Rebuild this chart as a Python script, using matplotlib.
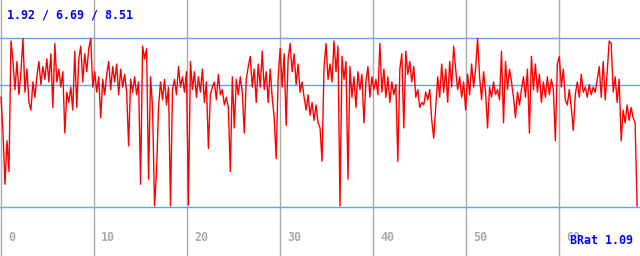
import numpy as np
import matplotlib
matplotlib.use("Agg")
from matplotlib import pyplot as plt

# signal values, left to right (~2 px apart)
brat = [
    6.2, 4.8, 2.8, 4.5, 3.3,
    8.4, 7.6,
    6.5, 7.6, 6.3, 7.2, 8.5,
    6.4, 7.3, 6.0, 5.7, 6.8, 6.2, 7.0,
    7.6, 6.7, 7.4, 6.9, 7.7, 6.8,
    7.9, 5.8, 8.3,
    6.8, 7.3, 6.6, 7.2, 4.8,
    6.4, 6.0, 6.6, 5.7, 8.0, 5.8,
    7.7, 8.2, 6.8, 7.9, 7.2, 8.1, 8.5, 6.6,
    7.2, 6.4, 7.0, 5.4, 6.9, 6.3, 7.1,
    7.6, 6.5, 7.4, 6.8, 7.5, 6.3, 7.3, 6.6, 7.1, 6.4, 4.3,
    6.9, 6.4, 7.0, 6.3, 6.8,
    2.8, 8.2, 7.7,
    8.1, 3.0, 7.0, 5.8,
    1.95, 3.3, 5.8,
    6.8, 6.1, 6.9, 5.9, 6.6,
    1.95,
    6.5, 6.9, 6.3, 7.4, 6.6, 7.0, 6.4, 7.2,
    2.0,
    7.6, 6.5, 7.2, 6.2, 7.0, 6.4, 7.3, 6.0, 6.8, 4.2, 6.3, 6.6,
    6.8, 6.1, 7.1, 6.3, 6.5, 5.9, 6.2, 5.8,
    3.3,
    7.0, 5.0, 6.9, 6.3, 7.0, 6.4, 4.8,
    6.9, 7.4, 7.8, 6.6, 7.3, 6.0, 7.5, 6.6, 8.0,
    6.5, 7.2, 6.0, 7.3, 6.2, 5.4, 3.8,
    7.0, 8.1, 6.6, 7.9, 5.1, 7.7, 8.3, 7.2, 7.9, 6.7, 7.5, 6.4, 6.8,
    6.2, 5.7, 6.3, 5.5, 6.0, 5.3, 5.9, 5.2, 5.0,
    3.7,
    7.4, 8.3, 6.9, 7.5, 6.8,
    8.4, 7.2, 8.2,
    1.95,
    7.8, 6.9, 7.6, 3.0,
    7.4, 6.2, 7.0, 5.8, 7.2, 6.5, 7.1, 5.2,
    6.8, 7.4, 6.2, 7.0, 6.5, 6.9, 6.3,
    8.3,
    6.4, 7.3, 6.2, 7.0, 6.0, 6.8, 6.3, 6.7, 3.7,
    7.3, 7.9, 5.0, 8.0, 7.1, 7.6, 6.8, 7.4,
    6.2, 6.5, 5.8, 6.0, 5.9, 6.4, 6.1,
    6.5, 5.3, 4.6, 5.8,
    7.0, 6.2, 7.5, 6.4, 7.3, 6.0, 7.6, 6.6, 8.2,
    7.3, 6.5, 7.0, 6.2, 6.8, 5.7,
    7.1, 6.3, 7.5, 6.6, 7.3, 8.5,
    7.0, 6.1, 7.2, 6.4, 5.0,
    6.6, 6.2, 6.8, 6.3, 6.5, 6.1,
    8.0, 5.2,
    7.6, 6.5, 7.3, 6.8,
    6.2, 5.4, 6.4, 5.9, 6.5,
    7.0, 6.2, 7.3, 4.8,
    7.8, 6.5, 7.5,
    6.4, 7.1, 6.0, 6.8, 6.2, 7.0, 6.3, 6.9, 6.5, 4.5,
    7.5, 7.8, 6.6, 7.3,
    6.1, 5.9, 6.5, 5.8, 4.9, 6.3,
    6.8, 6.2, 7.1, 6.4, 6.6, 6.2, 6.7, 6.3, 6.6, 6.4, 6.9,
    7.4, 6.2, 7.6, 6.1, 7.2,
    8.4, 8.3,
    6.4, 7.0, 6.0, 6.9, 4.5,
    5.7, 5.2, 5.9, 5.3, 5.8, 5.4, 5.2,
    1.95,
]
t_end = 68.4
ref_lines = [1.92, 6.69, 8.51]   # min / avg / max
xticks = [0, 10, 20, 30, 40, 50, 60]
title = "1.92 / 6.69 / 8.51"
ratio_label = "BRat 1.09"

t = np.linspace(0, t_end, len(brat))

fig = plt.figure(figsize=(6.4, 2.56), dpi=100)
ax = fig.add_axes([0, 0, 1, 1])
ax.set_xlim(-0.108, 68.71)
ax.set_ylim(0, 10)
ax.axis('off')

for xt in xticks:
    ax.axvline(xt, color='#aaaaaa', lw=1.0, zorder=1)
for yv in ref_lines:
    ax.axhline(yv, color='#55a8ff', lw=1.0, zorder=1)

ax.plot(t, brat, color='#ff0000', lw=1.0, zorder=2)

font = dict(family='DejaVu Sans Mono', weight='bold', size=8.4)
for xt in xticks:
    ax.annotate(str(xt), (xt, 0), xycoords=('data', 'axes fraction'),
                xytext=(5, 13), textcoords='offset points',
                color='#aaaaaa', ha='left', va='center', **font)

fig.text(7 / 640, 1 - 15 / 256, title, color='#0000ff',
         ha='left', va='center', **font)
fig.text(633 / 640, 15 / 256, ratio_label, color='#0000ff',
         ha='right', va='center', zorder=5,
         bbox=dict(facecolor='white', edgecolor='none', pad=0), **font)

fig.savefig('out.png', dpi=100)
